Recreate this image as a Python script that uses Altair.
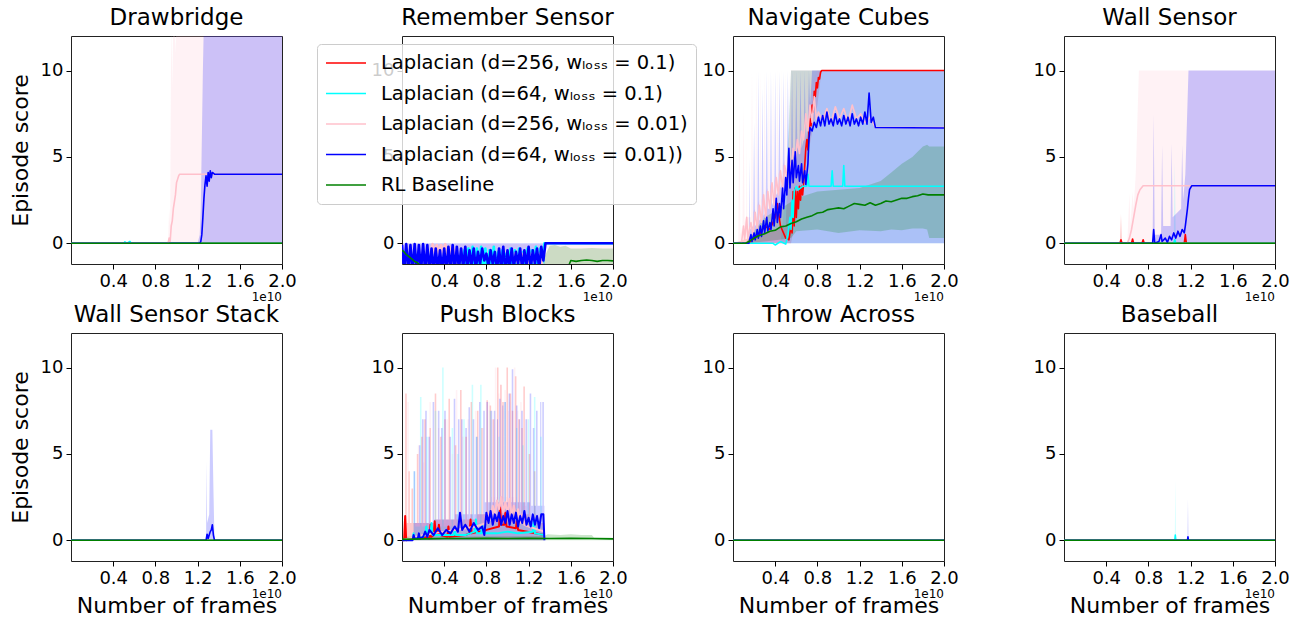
import altair as alt
import pandas as pd

SERIES = [
    "Laplacian (d=256, wₗₒₛₛ = 0.1)",
    "Laplacian (d=64, wₗₒₛₛ = 0.1)",
    "Laplacian (d=256, wₗₒₛₛ = 0.01)",
    "Laplacian (d=64, wₗₒₛₛ = 0.01))",
    "RL Baseline",
]
COLORS = ["#ff0000", "#00ffff", "#ffc0cb", "#0000ff", "#008000"]
TITLES = ["Drawbridge", "Remember Sensor", "Navigate Cubes", "Wall Sensor",
          "Wall Sensor Stack", "Push Blocks", "Throw Across", "Baseball"]
X_TICKS = [0.4, 0.8, 1.2, 1.6, 2.0]
Y_TICKS = [0, 5, 10]
X_DOMAIN = [0, 2]
Y_DOMAIN = [-1.2, 12]

# x in units of 1e10 frames
FLAT_X = [0.0, 2.0]
FLAT_Y = [0.0, 0.0]

# ---------------- Drawbridge ----------------
db_C_x = [0.0, 0.5, 0.51, 0.53, 0.56, 0.57, 0.6, 2.0]
db_C_m = [0.0, 0.0, 0.08, 0.0, 0.1, 0.0, 0.0, 0.0]
db_C_hi = [0.0, 0.0, 0.15, 0.0, 0.2, 0.0, 0.0, 0.0]
db_P_x = [0.0, 0.92, 0.93, 0.94, 0.95, 0.96, 0.97, 0.98, 0.99, 1.0, 1.01, 1.02, 1.03, 2.0]
db_P_m = [0.0, 0.0, 0.3, 0.1, 1.0, 1.3, 2.0, 2.4, 2.8, 3.5, 3.7, 3.9, 4.0, 4.0]
db_P_hi = [0.0, 0.0, 2.0, 1.0, 13, 9, 13, 13, 11, 13, 13, 13, 13, 13]
db_B_x = [0.0, 1.2, 1.22, 1.23, 1.24, 1.25, 1.26, 1.27, 1.28, 1.29, 1.3, 1.31, 1.32, 1.33, 1.34, 1.36, 2.0]
db_B_m = [0.0, 0.0, 0.0, 0.1, 0.5, 1.5, 2.6, 3.4, 3.9, 3.3, 4.1, 3.6, 4.2, 3.8, 4.1, 4.0, 4.0]
db_B_hi = [0.0, 0.0, 0.5, 2.0, 6.0, 10, 13, 13, 13, 13, 13, 13, 13, 13, 13, 13, 13]

# ---------------- Remember Sensor ----------------
rs_R_x = [0.0, 0.97, 0.99, 1.01, 1.03, 1.05, 2.0]
rs_R_m = [-1.6, -1.6, -0.9, -1.6, -1.0, -1.6, -1.6]
rs_C_x = [0.0, 0.57, 0.59, 0.61, 0.63, 0.65, 0.67, 0.69, 0.71, 0.73, 0.75, 0.77, 0.79, 0.81,
          0.83, 0.85, 0.87, 0.89, 0.91, 0.93, 0.95, 0.97, 0.99, 1.01, 1.03, 1.05, 1.07, 1.09,
          1.11, 1.13, 1.15, 1.17, 1.19, 1.21, 1.23, 1.25, 1.27, 1.29, 1.31, 1.33, 1.35, 2.0]
rs_C_m = [-1.6, -1.6, -0.4, -1.6, -0.3, -1.6, -0.2, -1.6, -0.3, -1.6, -0.2, -1.6, -0.3, -1.6,
          -0.4, -1.6, -0.2, -1.6, -0.5, -1.6, -0.4, -1.6, -0.6, -1.6, -0.3, -1.6, -0.4, -1.6,
          -0.3, -1.6, -0.5, -1.6, -0.3, -1.6, -0.4, -1.6, -0.2, -1.6, -0.3, -1.6, 0.0, 0.0]
rs_P_x = [0.0, 0.27, 0.29, 0.31, 0.33, 0.35, 0.37, 0.39, 0.41, 0.43, 0.45, 0.47, 0.49, 0.51,
          1.05, 1.07, 1.09, 1.11, 1.13, 1.15, 1.17, 1.19, 1.21, 1.23, 1.25, 1.27, 1.29, 1.31,
          1.33, 1.35, 2.0]
rs_P_m = [-1.6, -1.6, -0.05, -0.5, -0.1, -0.6, -0.1, -0.5, -0.05, -0.6, -0.2, -0.8, -0.3, -1.6,
          -1.6, -0.6, -1.1, -0.7, -1.2, -0.6, -1.0, -0.7, -1.2, -0.6, -1.1, -0.7, -1.0, -0.6,
          -1.2, -1.6, -1.6]
rs_P_bx = [0.0, 1.35, 1.36, 2.0]
rs_P_hi = [-0.05, -0.05, -0.1, -0.1]
rs_B_x = [0.0, 0.02, 0.04, 0.06, 0.08, 0.1, 0.12, 0.14, 0.16, 0.18,
          0.2, 0.22, 0.24, 0.26, 0.28, 0.3, 0.32, 0.34, 0.36, 0.38,
          0.4, 0.42, 0.44, 0.46, 0.48, 0.5, 0.52, 0.54, 0.56, 0.58,
          0.6, 0.62, 0.64, 0.66, 0.68, 0.7, 0.72, 0.74, 0.76, 0.78,
          0.8, 0.82, 0.84, 0.86, 0.88, 0.9, 0.92, 0.94, 0.96, 0.98,
          1.0, 1.02, 1.04, 1.06, 1.08, 1.1, 1.12, 1.14, 1.16, 1.18,
          1.2, 1.22, 1.24, 1.26, 1.28, 1.3, 1.32, 1.34, 1.36, 2.0]
rs_B_m = [-0.1, -1.6, -0.05, -1.6, -0.1, -1.6, -0.05, -1.6, -0.1, -1.6,
          -0.05, -1.6, -0.1, -1.6, -0.3, -1.6, -0.3, -1.6, -0.4, -1.6,
          -0.3, -1.6, -0.2, -1.6, -0.1, -1.6, -0.2, -1.5, -0.3, -1.4,
          -0.2, -1.6, -0.4, -1.3, -0.3, -1.5, -0.5, -1.2, -0.3, -1.0,
          -0.6, -1.4, -0.4, -1.2, -0.5, -1.6, -0.3, -1.5, -0.2, -1.6,
          -0.4, -1.5, -0.3, -1.4, -0.5, -1.2, -0.3, -1.6, -0.4, -1.3,
          -0.2, -1.5, -0.4, -1.2, -0.3, -1.5, -0.2, -1.0, 0.0, 0.0]
rs_B_bx = [0.0, 1.35]
rs_B_hi = [0.0, 0.0]
rs_G_x = [0.0, 0.02, 0.04, 0.06, 0.08, 0.1, 0.12, 0.14, 0.16, 0.18, 0.2, 0.25,
          1.55, 1.58, 1.6, 1.65, 1.7, 1.75, 1.8, 1.85, 1.9, 1.95, 2.0]
rs_G_m = [-0.4, -0.5, -0.65, -0.75, -0.85, -0.95, -1.05, -1.1, -1.2, -1.3, -1.45, -1.6,
          -1.6, -1.3, -1.0, -1.05, -1.0, -0.97, -1.0, -1.05, -1.0, -1.0, -1.02]
rs_G_bx = [0.0, 1.35, 1.4, 1.45, 1.5, 1.55, 1.6, 1.7, 1.8, 1.9, 2.0]
rs_G_hi = [-0.8, -0.8, -0.15, -0.1, -0.2, -0.15, -0.3, -0.3, -0.28, -0.3, -0.3]

# ---------------- Navigate Cubes ----------------
nc_R_x = [0.0, 0.15, 0.2, 0.25, 0.3, 0.35, 0.4, 0.42, 0.45, 0.5,
          0.53, 0.55, 0.56, 0.57, 0.58, 0.59, 0.6, 0.61, 0.62, 0.63,
          0.64, 0.65, 0.66, 0.67, 0.68, 0.69, 0.7, 0.71, 0.72, 0.73,
          0.74, 0.75, 0.76, 0.77, 0.78, 0.79, 0.8, 0.81, 0.82, 0.83, 0.84, 2.0]
nc_R_m = [0.0, 0.0, 0.3, 0.5, 1.0, 0.8, 1.5, 2.3, 1.0, 0.3,
          0.2, 1.0, 0.6, 3.0, 1.0, 3.2, 1.5, 3.0, 2.0, 3.3,
          2.5, 3.3, 2.8, 3.5, 4.5, 5.5, 6.0, 5.4, 6.5, 7.2,
          6.8, 8.0, 7.6, 8.8, 8.5, 9.3, 9.0, 9.6, 9.5, 9.9, 10.0, 10.0]
nc_R_bx = [0.0, 0.5, 0.55, 0.8, 0.84, 2.0]
nc_R_lo = [0.0, 0.0, 0.0, 8.0, 10.0, 10.0]
nc_R_hi = [0.0, 1.0, 10.0, 10.0, 10.0, 10.0]
nc_C_x = [0.0, 0.38, 0.4, 0.45, 0.5, 0.52, 0.54, 0.55, 0.56, 0.57, 0.58, 0.6,
          0.62, 0.66, 0.7, 0.71, 0.72, 0.93, 0.94, 0.95, 1.04, 1.05, 1.06, 2.0]
nc_C_m = [0.0, 0.0, -0.1, 0.1, -0.05, 0.5, 1.5, 0.8, 2.5, 1.5, 3.0, 3.3,
          3.1, 3.3, 3.3, 4.0, 3.3, 3.3, 4.2, 3.3, 3.3, 4.5, 3.3, 3.3]
nc_C_bx = [0.0, 0.45, 0.5, 0.55, 2.0]
nc_C_hi = [0.0, 0.0, 3.0, 10.0, 10.0]
nc_P_x = [0.0, 0.08, 0.1, 0.11, 0.13, 0.14, 0.17, 0.19, 0.21, 0.23,
          0.25, 0.27, 0.29, 0.31, 0.33, 0.35, 0.37, 0.39, 0.41, 0.43,
          0.45, 0.47, 0.49, 0.51, 0.53, 0.55, 0.57, 0.59, 0.61, 0.63,
          0.65, 0.67, 0.69, 0.71, 0.73, 0.75, 0.77, 0.79, 0.81, 0.85,
          0.89, 0.93, 0.97, 1.01, 1.05, 1.09, 1.13, 1.17, 1.21, 1.25, 1.3, 1.35, 2.0]
nc_P_m = [0.0, 0.0, 1.0, 0.2, 1.5, 0.3, 1.2, 0.5, 1.8, 0.8,
          2.2, 1.2, 2.8, 1.5, 3.0, 2.0, 3.5, 2.2, 3.8, 2.8,
          4.2, 3.2, 4.5, 3.8, 5.0, 4.2, 5.5, 4.8, 6.0, 5.2,
          6.5, 6.0, 7.5, 6.5, 8.0, 7.0, 8.5, 7.2, 7.6, 7.1,
          7.8, 7.0, 7.9, 7.2, 7.8, 7.0, 8.0, 7.2, 7.5, 7.0, 7.3, 6.7, 6.7]
nc_P_bx = [0.0, 0.05, 0.06, 0.07,
           0.09, 0.1, 0.11, 0.125, 0.13, 0.135, 0.17, 0.18, 0.19,
           0.21, 0.22, 0.23, 0.25, 0.26, 0.27, 0.29, 0.3, 0.31,
           0.33, 0.34, 0.35, 0.37, 0.38, 0.39, 0.41, 0.42, 0.43,
           0.45, 0.46, 0.47, 0.49, 0.5, 0.51, 0.53, 0.54, 0.55,
           0.57, 0.58, 0.59, 0.61, 0.62, 0.63, 0.65, 0.66, 0.67,
           0.69, 0.7, 0.71, 0.73, 0.74, 0.75, 0.8, 2.0]
nc_P_hi = [0, 0, 8, 0.5,
           1.0, 8, 1.2, 1.5, 6, 1.5, 1.5, 10, 1.8,
           2.0, 10, 2.2, 2.5, 10, 2.5, 3.0, 10, 3.0,
           3.2, 10, 3.3, 3.5, 10, 3.6, 4.0, 10, 4.0,
           4.3, 10, 4.5, 4.8, 10, 5.0, 5.2, 10, 5.5,
           5.8, 10, 6.0, 6.3, 10, 6.5, 7.0, 10, 7.0,
           7.5, 10, 8.0, 8.5, 10, 9.0, 10, 10]
nc_B_x = [0.0, 0.15, 0.17, 0.18, 0.2, 0.21, 0.23, 0.24, 0.26, 0.27,
          0.29, 0.3, 0.32, 0.33, 0.35, 0.36, 0.38, 0.39, 0.41, 0.42,
          0.44, 0.45, 0.47, 0.48, 0.5, 0.51, 0.53, 0.54, 0.56, 0.57,
          0.59, 0.6, 0.62, 0.63, 0.65, 0.66, 0.68, 0.69, 0.71, 0.72,
          0.73, 0.75, 0.77, 0.79, 0.81, 0.83, 0.85, 0.87, 0.89, 0.91,
          0.93, 0.95, 0.97, 0.99, 1.01, 1.03, 1.05, 1.07, 1.09, 1.11,
          1.13, 1.15, 1.17, 1.19, 1.21, 1.23, 1.25, 1.27, 1.29, 1.31, 1.33, 1.35, 2.0]
nc_B_m = [0.0, 0.0, 0.5, 0.1, 0.6, 0.2, 0.8, 0.3, 1.0, 0.4,
          1.3, 0.6, 1.5, 0.7, 1.2, 0.8, 2.0, 1.0, 2.6, 1.2,
          2.3, 1.5, 3.2, 2.0, 3.8, 2.8, 5.5, 3.2, 4.8, 3.5,
          5.3, 3.8, 4.5, 3.6, 4.6, 3.5, 4.2, 3.4, 4.6, 6.0,
          6.7, 6.5, 7.0, 6.7, 7.3, 6.8, 7.4, 6.8, 7.6, 6.9,
          7.2, 6.8, 7.5, 6.9, 7.2, 6.8, 7.4, 6.9, 7.3, 6.8,
          7.5, 6.9, 7.2, 6.8, 7.3, 6.9, 7.6, 6.9, 8.7, 7.0, 7.3, 6.7, 6.67]
nc_B_bx = [0.0, 0.15, 0.155, 0.16,
           0.19, 0.2, 0.21, 0.23, 0.24, 0.25, 0.27, 0.28, 0.29,
           0.31, 0.32, 0.33, 0.35, 0.36, 0.37, 0.39, 0.4, 0.41,
           0.43, 0.44, 0.45, 0.47, 0.48, 0.49, 0.51, 0.52, 0.53,
           0.55, 0.56, 0.57, 0.59, 0.6, 0.61, 0.63, 0.64, 0.65,
           0.67, 0.68, 0.69, 0.71, 0.72, 0.73, 0.75, 2.0]
nc_B_hi = [0, 0, 5, 0.8,
           1.0, 7, 1.0, 1.2, 10, 1.3, 1.5, 9, 1.6,
           1.8, 10, 2.0, 2.0, 10, 2.2, 2.5, 10, 2.8,
           3.0, 10, 3.2, 3.5, 10, 3.8, 4.0, 10, 4.5,
           5.0, 10, 5.2, 5.5, 10, 5.5, 5.5, 10, 5.5,
           6.0, 10, 6.0, 7.0, 10, 8.0, 10, 10]
nc_G_x = [0.0, 0.12, 0.15, 0.2, 0.25, 0.3, 0.35, 0.4, 0.45, 0.5,
          0.55, 0.6, 0.65, 0.7, 0.75, 0.8, 0.85, 0.9, 0.95, 1.0,
          1.05, 1.1, 1.15, 1.2, 1.25, 1.3, 1.35, 1.4, 1.45, 1.5,
          1.55, 1.6, 1.65, 1.7, 1.75, 1.8, 1.85, 1.9, 1.95, 2.0]
nc_G_m = [0.0, 0.0, 0.1, 0.3, 0.45, 0.55, 0.7, 0.75, 0.95, 1.0,
          1.15, 1.25, 1.4, 1.5, 1.6, 1.75, 1.8, 1.95, 2.0, 2.05,
          2.0, 2.15, 2.3, 2.25, 2.2, 2.35, 2.2, 2.3, 2.45, 2.4,
          2.5, 2.6, 2.6, 2.7, 2.75, 2.85, 2.8, 2.8, 2.8, 2.8]
nc_G_bx = [0.0, 0.12, 0.15, 0.3, 0.5, 0.55, 0.6, 0.8, 1.0, 1.2, 1.4, 1.5, 1.6, 1.7, 1.8, 1.84, 1.86, 2.0]
nc_G_lo = [0, 0, 0, 0.1, 0.25, 0.3, 0.7, 0.8, 0.6, 0.75, 0.7, 0.8, 0.75, 0.85, 0.85, 0.8, 0.3, 0.3]
nc_G_hi = [0, 0, 0.3, 1.5, 2.2, 2.4, 2.6, 3.0, 3.1, 3.2, 3.6, 4.1, 4.6, 5.0, 5.6, 5.7, 5.6, 5.6]

# ---------------- Wall Sensor ----------------
ws_R_x = [0.0, 0.53, 0.54, 0.55, 0.64, 0.65, 0.66, 0.74, 0.75, 0.76, 1.14, 1.15, 1.16, 2.0]
ws_R_m = [0, 0, 0.2, 0, 0, 0.25, 0, 0, 0.2, 0, 0, 0.5, 0, 0]
ws_R_bx = [0.0, 0.53, 0.54, 0.55, 2.0]
ws_R_hi = [0, 0, 1.7, 0, 0]
ws_C_x = [0.0, 1.04, 1.05, 1.06, 2.0]
ws_C_m = [0, 0, 0.2, 0, 0]
ws_C_hi = [0, 0, 4.7, 0, 0]
ws_P_x = [0.0, 0.6, 0.62, 0.64, 0.66, 0.68, 0.7, 0.72, 0.75, 2.0]
ws_P_m = [0, 0, 0.3, 0.8, 1.5, 2.2, 2.8, 3.1, 3.33, 3.33]
ws_P_bx = [0.0, 0.6, 0.62, 0.63, 0.65, 0.66, 0.68, 0.7, 0.71, 2.0]
ws_P_hi = [0, 0, 2.9, 1.0, 3.0, 2.0, 4.0, 8.0, 10, 10]
ws_B_x = [0.0, 0.84, 0.85, 0.86, 0.9, 0.92, 0.93, 0.96, 0.98, 1.0, 1.02, 1.04,
          1.06, 1.08, 1.1, 1.12, 1.14, 1.15, 1.16, 1.17, 1.18, 1.19, 1.21, 2.0]
ws_B_m = [0, 0, 0.8, 0.0, 0.1, 0.5, 0.1, 0.3, 0.05, 0.4, 0.2, 0.6,
          0.3, 0.7, 0.4, 0.8, 0.6, 1.0, 1.5, 2.0, 2.6, 3.1, 3.33, 3.33]
ws_B_bx = [0.0, 0.84, 0.85, 0.86, 0.92, 0.93, 0.94, 1.01, 1.02, 1.03, 1.11, 1.12,
           1.13, 1.15, 1.16, 1.17, 1.18, 2.0]
ws_B_hi = [0, 0, 7.5, 0.5, 0.5, 5.7, 1.0, 1.0, 5.8, 1.5, 2.0, 5.7,
           2.5, 4.0, 6.0, 8.0, 10, 10]

# ---------------- Wall Sensor Stack ----------------
wss_B_x = [0.0, 1.28, 1.29, 1.3, 1.31, 1.32, 1.33, 1.34, 1.35, 1.36, 2.0]
wss_B_m = [0, 0, 0.35, 0.1, 0.3, 0.5, 0.6, 0.9, 0.3, 0, 0]
wss_B_bx = [0.0, 1.28, 1.285, 1.29, 1.31, 1.32, 1.34, 1.35, 1.36, 2.0]
wss_B_hi = [0, 0, 4.6, 1.0, 1.5, 6.4, 6.4, 3.0, 0, 0]

# ---------------- Push Blocks ----------------
pb_R_x = [0.0, 0.02, 0.03, 0.04, 0.1, 0.2, 0.26, 0.27, 0.28, 0.3,
          0.31, 0.32, 0.34, 0.35, 0.36, 0.43, 0.44, 0.45, 0.6, 0.64,
          0.65, 0.66, 0.8, 0.92, 0.93, 0.94, 0.97, 0.98, 0.99, 1.08,
          1.09, 1.1, 1.35]
pb_R_m = [0.0, 0.0, 1.4, 0.0, 0.1, 0.2, 0.1, 0.9, 0.2, 0.3,
          1.1, 0.3, 0.4, 0.9, 0.3, 0.2, 0.8, 0.2, 0.3, 0.4,
          1.2, 0.4, 0.6, 0.8, 1.9, 0.9, 0.9, 1.6, 0.8, 0.7,
          1.2, 0.6, 0.3]
# band streaks (drawn as steps after each x)
pb_R_bx = [0.0, 0.03, 0.045, 0.06, 0.075, 0.09, 0.105, 0.14, 0.155, 0.18, 0.195,
           0.21, 0.225, 0.26, 0.275, 0.31, 0.325, 0.36, 0.375, 0.4, 0.415,
           0.44, 0.455, 0.5, 0.515, 0.55, 0.565, 0.6, 0.615, 0.65, 0.665,
           0.71, 0.725, 0.75, 0.765, 0.8, 0.815, 0.83, 0.845, 0.86, 0.875,
           0.9, 0.915, 0.93, 0.945, 0.95, 0.965, 0.99, 1.005, 1.02, 1.035,
           1.04, 1.055, 1.07, 1.085, 1.1, 1.115, 1.13, 1.145, 1.15, 1.165,
           1.2, 1.215, 1.25, 1.265, 1.35]
pb_R_hi = [0.0, 8.5, 1.0, 4.0, 1.0, 3.0, 1.0, 5.0, 1.0, 6.0, 1.0,
           7.0, 1.0, 6.5, 1.0, 8.5, 1.2, 6.0, 1.2, 7.0, 1.2,
           8.2, 1.2, 5.5, 1.2, 8.7, 1.2, 6.0, 1.2, 8.0, 1.2,
           7.5, 1.5, 6.5, 1.5, 8.1, 1.5, 7.8, 1.5, 7.0, 1.5,
           10, 1.8, 9.0, 1.8, 8.0, 1.8, 10, 1.8, 8.5, 1.8,
           7.5, 1.8, 9.5, 1.8, 7.0, 1.5, 6.5, 1.5, 8.9, 1.5,
           5.0, 1.0, 4.0, 1.0, 0.0]
pb_C_x = [0.0, 0.1, 0.11, 0.12, 0.2, 0.22, 0.23, 0.24, 0.27, 0.28,
          0.29, 0.4, 0.49, 0.5, 0.51, 0.6, 0.69, 0.7, 0.71, 0.75,
          0.76, 0.77, 0.9, 1.0, 1.1, 1.24, 1.25, 1.26, 1.35]
pb_C_m = [0.0, 0.1, 0.4, 0.1, 0.2, 0.3, 0.8, 0.3, 0.4, 1.0,
          0.3, 0.3, 0.3, 0.6, 0.3, 0.3, 0.5, 1.2, 0.4, 0.4,
          0.9, 0.4, 0.4, 0.5, 0.4, 0.5, 1.2, 0.4, 0.3]
pb_C_bx = [0.0, 0.11, 0.125, 0.17, 0.185, 0.23, 0.245, 0.31, 0.325, 0.38, 0.395,
           0.47, 0.485, 0.52, 0.535, 0.58, 0.595, 0.66, 0.675, 0.7, 0.715,
           0.74, 0.755, 0.83, 0.845, 0.91, 0.925, 0.97, 0.985, 1.08, 1.095,
           1.14, 1.155, 1.19, 1.205, 1.25, 1.265, 1.31, 1.325, 1.35]
pb_C_hi = [0.0, 4.0, 0.8, 8.3, 0.8, 6.0, 0.8, 7.5, 0.8, 10, 0.8,
           6.5, 0.8, 5.0, 0.8, 7.0, 0.8, 9.0, 1.0, 6.0, 1.0,
           9.0, 1.0, 7.5, 1.0, 6.0, 1.0, 8.0, 1.0, 6.5, 1.0,
           5.5, 1.0, 7.0, 1.0, 8.3, 1.0, 6.0, 0.8, 0.0]
pb_P_x = [0.0, 0.2, 0.4, 0.5, 0.6, 0.7, 0.8, 0.82, 0.84, 0.86,
          0.88, 0.9, 0.92, 0.94, 0.96, 0.98, 1.0, 1.02, 1.04, 1.06,
          1.08, 1.1, 1.12, 1.14, 1.16, 1.2, 1.35]
pb_P_m = [0.0, 0.3, 0.5, 0.6, 0.7, 0.8, 1.0, 1.6, 1.2, 2.0,
          1.5, 2.3, 1.8, 2.5, 1.6, 2.2, 1.5, 2.4, 1.4, 2.0,
          1.2, 1.8, 1.0, 1.5, 0.9, 0.8, 0.5]
pb_P_bx = [0.0, 0.05, 0.065, 0.15, 0.165, 0.2, 0.215, 0.26, 0.275, 0.34, 0.355,
           0.42, 0.435, 0.47, 0.485, 0.51, 0.525, 0.57, 0.585, 0.62, 0.635,
           0.69, 0.705, 0.76, 0.775, 0.82, 0.835, 0.85, 0.865, 0.88, 0.895,
           0.91, 0.925, 0.93, 0.945, 0.97, 0.985, 1.0, 1.015, 1.02, 1.035,
           1.06, 1.075, 1.09, 1.105, 1.12, 1.135, 1.18, 1.195, 1.35]
pb_P_hi = [0.0, 8.0, 1.0, 5.5, 1.0, 4.5, 1.0, 8.0, 1.0, 6.5, 1.0,
           7.0, 1.0, 5.0, 1.2, 8.7, 1.2, 6.0, 1.2, 7.0, 1.2,
           7.5, 1.5, 6.5, 1.5, 8.0, 2.5, 7.0, 2.5, 10, 2.5,
           8.5, 2.5, 9.0, 2.5, 8.7, 2.5, 7.5, 2.5, 8.0, 2.5,
           10, 2.5, 7.5, 2.0, 8.0, 2.0, 7.0, 1.5, 0.0]
pb_B_x = [0.0, 0.1, 0.11, 0.12, 0.15, 0.16, 0.17, 0.2, 0.22, 0.24,
          0.26, 0.3, 0.34, 0.38, 0.42, 0.46, 0.5, 0.53, 0.55, 0.57,
          0.6, 0.64, 0.68, 0.72, 0.76, 0.78, 0.8, 0.82, 0.84, 0.86,
          0.88, 0.9, 0.92, 0.94, 0.96, 0.98, 1.0, 1.02, 1.04, 1.06,
          1.08, 1.1, 1.12, 1.14, 1.16, 1.18, 1.2, 1.22, 1.24, 1.26,
          1.28, 1.3, 1.32, 1.34, 1.35]
pb_B_m = [0.0, 0.0, 0.3, 0.1, 0.1, 0.4, 0.1, 0.2, 0.5, 0.2,
          0.6, 0.3, 0.7, 0.3, 0.6, 0.4, 0.8, 0.5, 1.6, 0.6,
          0.9, 0.5, 1.0, 0.6, 0.8, 0.3, 1.6, 1.0, 1.7, 0.9,
          1.5, 1.1, 1.6, 0.9, 1.4, 1.0, 1.7, 0.9, 1.5, 1.0,
          1.6, 0.8, 1.4, 1.0, 1.7, 0.9, 1.3, 0.8, 1.5, 0.9,
          1.4, 0.7, 1.5, 1.5, 0.0]
pb_B_bx = [0.0, 0.11, 0.125, 0.16, 0.175, 0.19, 0.205, 0.22, 0.235, 0.25, 0.265,
           0.29, 0.305, 0.34, 0.355, 0.37, 0.385, 0.4, 0.415, 0.45, 0.465,
           0.49, 0.505, 0.53, 0.545, 0.56, 0.575, 0.6, 0.615, 0.63, 0.645,
           0.67, 0.685, 0.7, 0.715, 0.73, 0.745, 0.77, 0.785, 0.8, 0.815,
           0.84, 0.855, 0.87, 0.885, 0.9, 0.91, 0.92, 0.935, 0.95, 0.96,
           0.97, 0.985, 1.01, 1.025, 1.04, 1.055, 1.08, 1.095, 1.11, 1.12,
           1.13, 1.145, 1.17, 1.185, 1.21, 1.225, 1.24, 1.255, 1.27, 1.285,
           1.31, 1.32, 1.33, 1.345, 1.35]
pb_B_hi = [0.0, 4.0, 1.0, 5.5, 1.0, 7.0, 1.0, 7.5, 1.0, 6.0, 1.0,
           8.0, 1.2, 7.5, 1.2, 6.5, 1.2, 7.5, 1.2, 6.0, 1.2,
           8.2, 1.5, 7.0, 1.5, 7.0, 1.5, 6.5, 1.5, 7.7, 1.5,
           7.0, 1.5, 6.0, 1.5, 8.0, 1.5, 7.5, 2.2, 8.0, 2.2,
           7.5, 2.2, 7.5, 2.2, 7.0, 2.2, 8.2, 2.2, 7.8, 2.2,
           8.0, 2.2, 8.5, 2.2, 9.9, 2.2, 7.8, 2.2, 7.0, 2.2,
           7.5, 2.2, 7.0, 2.2, 8.5, 2.0, 6.5, 2.0, 7.5, 2.0,
           8.0, 2.0, 8.0, 2.0, 0.0]
pb_G_x = [0.0, 0.2, 0.4, 0.6, 0.8, 1.0, 1.2, 1.4, 1.6, 1.8, 2.0]
pb_G_m = [0.05, 0.08, 0.1, 0.1, 0.12, 0.1, 0.12, 0.1, 0.12, 0.1, 0.08]
pb_G_bx = [0.0, 1.35, 1.38, 1.5, 1.6, 1.7, 1.8, 1.82, 2.0]
pb_G_hi = [0.2, 0.25, 0.35, 0.3, 0.35, 0.3, 0.3, 0.15, 0.15]

# ---------------- Baseball ----------------
bb_C_x = [0.0, 1.05, 1.055, 1.06, 2.0]
bb_C_m = [0, 0, 0.3, 0, 0]
bb_C_hi = [0, 0, 3.5, 0, 0]
bb_B_x = [0.0, 1.17, 1.175, 1.18, 2.0]
bb_B_m = [0, 0, 0.2, 0, 0]
bb_B_hi = [0, 0, 2.4, 0, 0]


def S(x, m, bx=None, lo=None, hi=None, interp="linear"):
    return {"x": x, "m": m, "bx": bx, "lo": lo, "hi": hi, "interp": interp}


FLAT = S(FLAT_X, FLAT_Y)
STEP = "step-after"

PANELS = {
    "Drawbridge": [FLAT, S(db_C_x, db_C_m, db_C_x, 0.0, db_C_hi),
                   S(db_P_x, db_P_m, db_P_x, 0.0, db_P_hi),
                   S(db_B_x, db_B_m, db_B_x, 0.0, db_B_hi), FLAT],
    "Remember Sensor": [S(rs_R_x, rs_R_m), S(rs_C_x, rs_C_m),
                        S(rs_P_x, rs_P_m, rs_P_bx, -2.5, rs_P_hi),
                        S(rs_B_x, rs_B_m, rs_B_bx, -2.5, rs_B_hi),
                        S(rs_G_x, rs_G_m, rs_G_bx, -2.5, rs_G_hi)],
    "Navigate Cubes": [S(nc_R_x, nc_R_m, nc_R_bx, nc_R_lo, nc_R_hi),
                       S(nc_C_x, nc_C_m, nc_C_bx, 0.0, nc_C_hi),
                       S(nc_P_x, nc_P_m, nc_P_bx, 0.0, nc_P_hi),
                       S(nc_B_x, nc_B_m, nc_B_bx, 0.0, nc_B_hi),
                       S(nc_G_x, nc_G_m, nc_G_bx, nc_G_lo, nc_G_hi)],
    "Wall Sensor": [S(ws_R_x, ws_R_m, ws_R_bx, 0.0, ws_R_hi),
                    S(ws_C_x, ws_C_m, ws_C_x, 0.0, ws_C_hi),
                    S(ws_P_x, ws_P_m, ws_P_bx, 0.0, ws_P_hi),
                    S(ws_B_x, ws_B_m, ws_B_bx, 0.0, ws_B_hi), FLAT],
    "Wall Sensor Stack": [FLAT, FLAT, FLAT,
                          S(wss_B_x, wss_B_m, wss_B_bx, 0.0, wss_B_hi), FLAT],
    "Push Blocks": [S(pb_R_x, pb_R_m, pb_R_bx, 0.0, pb_R_hi, STEP),
                    S(pb_C_x, pb_C_m, pb_C_bx, 0.0, pb_C_hi, STEP),
                    S(pb_P_x, pb_P_m, pb_P_bx, 0.0, pb_P_hi, STEP),
                    S(pb_B_x, pb_B_m, pb_B_bx, 0.0, pb_B_hi, STEP),
                    S(pb_G_x, pb_G_m, pb_G_bx, 0.0, pb_G_hi)],
    "Throw Across": [FLAT, FLAT, FLAT, FLAT, FLAT],
    "Baseball": [FLAT, S(bb_C_x, bb_C_m, bb_C_x, 0.0, bb_C_hi), FLAT,
                 S(bb_B_x, bb_B_m, bb_B_x, 0.0, bb_B_hi), FLAT],
}

# line widths per panel (style, not data)
LINE_W = {"Remember Sensor": 2.6, "Push Blocks": 2.0}

W, H = 211, 228
x_scale = alt.Scale(domain=X_DOMAIN, nice=False, zero=False)
y_scale = alt.Scale(domain=Y_DOMAIN, nice=False, zero=False)
color_scale = alt.Scale(domain=SERIES, range=COLORS)

LEGEND = alt.Legend(
    title=None, orient="none", legendX=246, legendY=8, direction="vertical",
    symbolType="stroke", symbolSize=1600, symbolStrokeWidth=1.5,
    labelFontSize=19.5, labelLimit=600, labelOffset=14, labelColor="black",
    fillColor="rgba(255,255,255,0.8)", strokeColor="#cccccc", cornerRadius=4,
    padding=8, rowPadding=8.5, clipHeight=22,
)


def make_panel(i, title):
    left = i % 4 == 0
    bottom = i >= 4
    xax = alt.Axis(values=X_TICKS, format=".1f", labelFlush=False,
                   title="Number of frames" if bottom else None)
    yax = alt.Axis(values=Y_TICKS, format="d", labelFlush=False,
                   title="Episode score" if left else None)
    X = alt.X("x:Q", scale=x_scale, axis=xax)
    lw = LINE_W.get(title, 1.6)
    layers = []
    for k, s in enumerate(PANELS[title]):
        if s["bx"] is None:
            continue
        n = len(s["bx"])
        lo = s["lo"] if isinstance(s["lo"], list) else [s["lo"]] * n
        d = pd.DataFrame({"x": s["bx"], "lo": lo, "hi": s["hi"]})
        layers.append(
            alt.Chart(d).mark_area(clip=True, opacity=0.2, color=COLORS[k],
                                   interpolate=s["interp"])
            .encode(x=X, y=alt.Y("lo:Q", scale=y_scale, axis=yax), y2="hi:Q")
        )
    for k, s in enumerate(PANELS[title]):
        d = pd.DataFrame({"x": s["x"], "m": s["m"], "s": SERIES[k]})
        w = lw if k < 4 else 1.6
        layers.append(
            alt.Chart(d).mark_line(clip=True, strokeWidth=w, strokeJoin="round")
            .encode(x=X, y=alt.Y("m:Q", scale=y_scale, axis=yax),
                    color=alt.Color("s:N", scale=color_scale, legend=LEGEND))
        )
    layers.append(
        alt.Chart(pd.DataFrame({"t": ["1e10"]}))
        .mark_text(align="right", baseline="middle", fontSize=12, color="black")
        .encode(x=alt.value(W), y=alt.value(H + 33), text="t:N")
    )
    return alt.layer(*layers).properties(width=W, height=H, title=title)


panels = [make_panel(i, t) for i, t in enumerate(TITLES)]
chart = (
    alt.concat(*panels, columns=4, spacing={"row": 69, "column": 120}, bounds="flush")
    .properties(padding={"left": 8, "top": 6, "right": 0, "bottom": 0})
    .configure(font="DejaVu Sans")
    .configure_view(stroke="#222222", strokeWidth=1)
    .configure_axis(domain=False, grid=False, tickColor="black", tickSize=5,
                    tickWidth=1, labelFontSize=18, labelColor="black",
                    titleFontSize=22, titleFontWeight="normal", titleColor="black",
                    labelPadding=3, titlePadding=8)
    .configure_title(fontSize=23, fontWeight="normal", color="black", offset=6)
)
chart.save("out.html", embed_options={"renderer": "svg", "actions": False})
